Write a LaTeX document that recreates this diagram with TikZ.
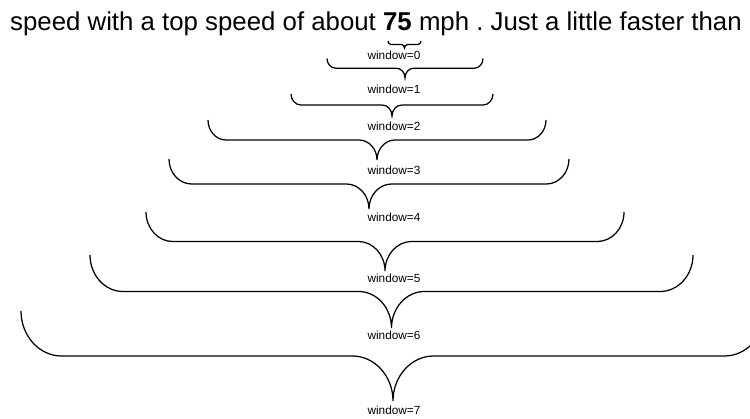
\documentclass[tikz,border=0pt]{standalone}
\usepackage{fontspec}
\setmainfont{Liberation Sans}
\frenchspacing
\begin{document}
% curly brace opening downward: left x, right x, top y, depth
\newcommand\wbrace[4]{%
  \pgfmathsetmacro\bw{0.9*#4}%
  \pgfmathsetmacro\bc{(#1+#2)/2}%
  \draw[bracestroke]
    (#1,#3) .. controls (#1,#3+0.55*#4) and (#1+0.45*\bw,#3+#4) .. (#1+\bw,#3+#4)
    -- (\bc-\bw,#3+#4)
    .. controls (\bc-0.45*\bw,#3+#4) and (\bc,#3+1.45*#4) .. (\bc,#3+2*#4)
    .. controls (\bc,#3+1.45*#4) and (\bc+0.45*\bw,#3+#4) .. (\bc+\bw,#3+#4)
    -- (#2-\bw,#3+#4)
    .. controls (#2-0.45*\bw,#3+#4) and (#2,#3+0.55*#4) .. (#2,#3);%
}
\begin{tikzpicture}[x=1pt,y=-1pt,
  bracestroke/.style={line width=1.25pt,black},
  winlabel/.style={font=\fontsize{11.8}{12}\selectfont,inner sep=0pt},
  sentence/.style={font=\fontsize{25.8}{28}\selectfont,inner sep=0pt,anchor=base west}]
\clip (0,0) rectangle (750,419);
\fill[white] (0,0) rectangle (750,419);

\node[sentence] (txt) at (10,30.5) {speed with a top speed of about \textbf{75} mph . Just a little faster than};

\wbrace{388}{421}{41}{3.5}
\node[winlabel] (w0) at (394,55) {window=0};
\wbrace{327}{483}{58.5}{9.7}
\node[winlabel] (w1) at (394,89) {window=1};
\wbrace{291}{493}{94}{11}
\node[winlabel] (w2) at (394,126) {window=2};
\wbrace{208}{546}{120}{20}
\node[winlabel] (w3) at (394,170) {window=3};
\wbrace{169}{569}{159}{25}
\node[winlabel] (w4) at (394,217) {window=4};
\wbrace{146}{624}{212}{29.5}
\node[winlabel] (w5) at (394,278) {window=5};
\wbrace{90}{693}{255}{36.5}
\node[winlabel] (w6) at (394,335) {window=6};
\wbrace{21}{765}{311}{45}
\node[winlabel] (w7) at (394,410) {window=7};
\end{tikzpicture}
\end{document}
